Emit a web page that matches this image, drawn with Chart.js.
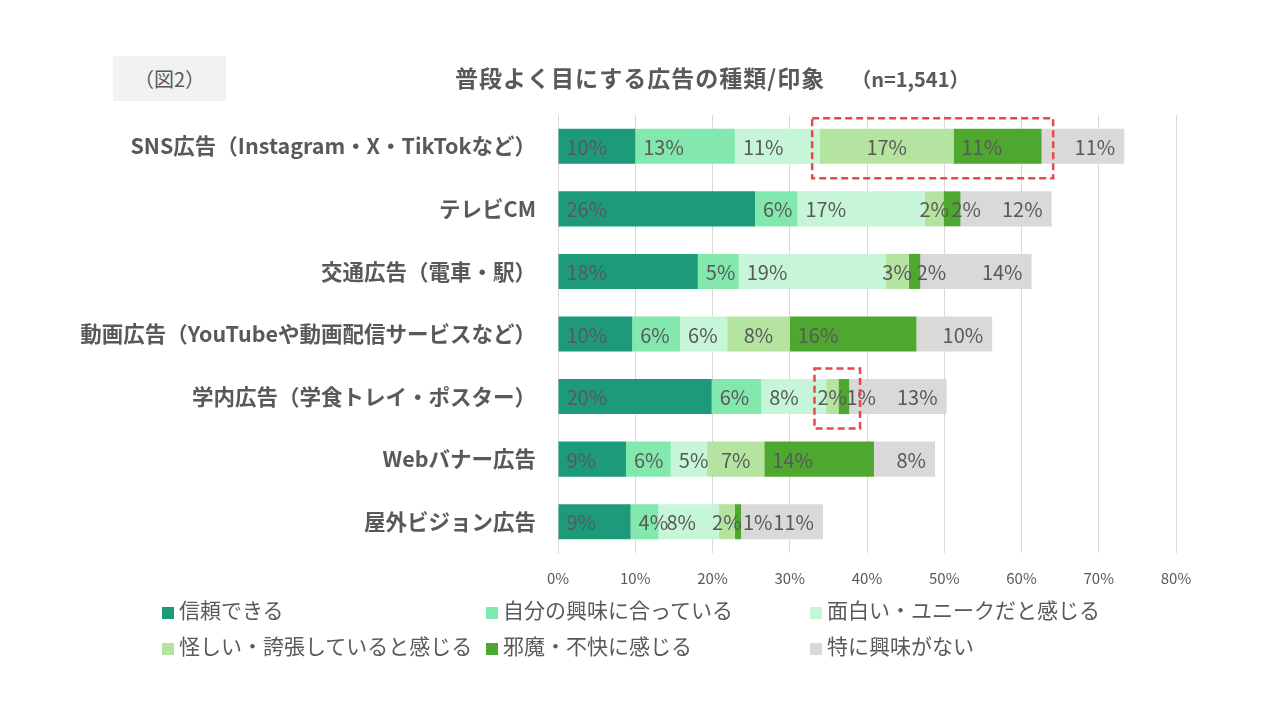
<!DOCTYPE html>
<html lang="ja">
<head>
<meta charset="utf-8">
<script src="https://cdn.jsdelivr.net/npm/chart.js@4/dist/chart.umd.min.js"></script>
<style>
  html, body { margin: 0; padding: 0; background: #fff; }
  body { width: 1280px; height: 720px; position: relative; overflow: hidden;
         font-family: "Noto Sans CJK JP", "Noto Sans", sans-serif; color: #595959; }
  #fig { position: absolute; left: 113px; top: 56px; width: 113px; height: 45px;
         background: #f2f2f2; font-size: 20px; line-height: 45px; text-align: center; }
  #title { position: absolute; left: 455px; top: 60px; font-size: 23px; font-weight: bold;
           letter-spacing: 1px; white-space: nowrap; }
  #title span { margin-left: 26px; font-size: 20px; letter-spacing: 0; }
  #legend { position: absolute; left: 0; top: 0; }
  .item { position: absolute; font-size: 21px; white-space: nowrap; line-height: 24px; }
  .item i { display: inline-block; width: 12px; height: 12px; margin-right: 5px; vertical-align: -1px; }
</style>
</head>
<body>
<canvas id="myChart" width="1280" height="720"></canvas>
<div id="fig">（図2）</div>
<div id="title">普段よく目にする広告の種類/印象<span>（n=1,541）</span></div>
<div id="legend"></div>
<script>
const categories = [
    'SNS広告（Instagram・X・TikTokなど）',
    'テレビCM',
    '交通広告（電車・駅）',
    '動画広告（YouTubeや動画配信サービスなど）',
    '学内広告（学食トレイ・ポスター）',
    'Webバナー広告',
    '屋外ビジョン広告',
];
const seriesNames = [
    '信頼できる',
    '自分の興味に合っている',
    '面白い・ユニークだと感じる',
    '怪しい・誇張していると感じる',
    '邪魔・不快に感じる',
    '特に興味がない',
];
const trust     = [10.0, 25.5, 18.1,  9.6, 19.9,  8.8, 9.4];
const interest  = [12.9,  5.5,  5.3,  6.2,  6.4,  5.8, 3.6];
const funny     = [11.0, 16.5, 19.0,  6.1,  8.4,  4.7, 7.8];
const suspect   = [17.3,  2.4,  3.0,  8.1,  1.6,  7.4, 2.1];
const annoying  = [11.4,  2.2,  1.5, 16.4,  1.4, 14.2, 0.8];
const noInterest= [10.7, 11.8, 14.4,  9.8, 12.6,  7.9, 10.6];
const xTicks = [0, 10, 20, 30, 40, 50, 60, 70, 80];
// red dashed highlight boxes: category index, from %, to %
const highlights = [
    { cat: 0, from: 32.9, to: 64.1 },
    { cat: 4, from: 33.2, to: 39.1 },
];

const colors = ['#1d9a7a', '#82e8ae', '#c6f5d8', '#b4e4a0', '#4ea72e', '#d9d9d9'];
const allData = [trust, interest, funny, suspect, annoying, noInterest];

// legend (html)
const legendPos = [[162, 609], [486, 609], [810, 609], [162, 645], [486, 645], [810, 645]];
const legendEl = document.getElementById('legend');
for (let i = 0; i < seriesNames.length; i++) {
    const d = document.createElement('div');
    d.className = 'item';
    d.style.left = legendPos[i][0] + 'px';
    d.style.top = (legendPos[i][1] - 12) + 'px';
    d.innerHTML = `<i style="background:${colors[i]}"></i>${seriesNames[i]}`;
    legendEl.appendChild(d);
}

const labelPlugin = {
    id: 'segLabels',
    afterDatasetsDraw(chart) {
        const ctx = chart.ctx;
        ctx.save();
        ctx.font = '20px "Noto Sans CJK JP", sans-serif';
        ctx.fillStyle = '#595959';
        ctx.textBaseline = 'middle';
        chart.data.datasets.forEach((ds, i) => {
            chart.getDatasetMeta(i).data.forEach((bar, j) => {
                const txt = Math.round(ds.data[j]) + '%';
                const left = Math.min(bar.x, bar.base);
                const right = Math.max(bar.x, bar.base);
                let x;
                if (i === 3) {
                    ctx.textAlign = 'center';
                    x = (left + right) / 2;
                } else if (i === 5) {
                    ctx.textAlign = 'right';
                    x = right - 9;
                } else {
                    ctx.textAlign = 'left';
                    x = left + 8;
                }
                ctx.fillText(txt, x, bar.y + 1);
            });
        });
        ctx.restore();
    }
};

const boxPlugin = {
    id: 'boxes',
    afterDatasetsDraw(chart) {
        const ctx = chart.ctx;
        const xs = chart.scales.x, ys = chart.scales.y;
        ctx.save();
        ctx.strokeStyle = '#e8474b';
        ctx.lineWidth = 2.5;
        ctx.setLineDash([7, 4]);
        highlights.forEach(h => {
            const yc = ys.getPixelForValue(h.cat);
            const x1 = xs.getPixelForValue(h.from);
            const x2 = xs.getPixelForValue(h.to);
            ctx.strokeRect(x1, yc - 28, x2 - x1, 60);
        });
        ctx.restore();
    }
};

const ctx = document.getElementById('myChart').getContext('2d');
new Chart(ctx, {
    type: 'bar',
    data: {
        labels: categories,
        datasets: seriesNames.map((n, i) => ({
            label: n,
            data: allData[i],
            backgroundColor: colors[i],
            borderWidth: 0,
            categoryPercentage: 0.56,
            barPercentage: 1,
        })),
    },
    options: {
        indexAxis: 'y',
        responsive: false,
        animation: false,
        layout: { padding: { top: 115, right: 104, left: 0, bottom: 0 } },
        plugins: {
            legend: { display: false },
            tooltip: { enabled: false },
        },
        scales: {
            x: {
                stacked: true,
                min: 0,
                max: 80,
                afterBuildTicks: s => { s.ticks = xTicks.map(v => ({ value: v })); },
                afterFit: s => { s.height = 167; },
                grid: { color: '#d9d9d9', drawTicks: false },
                border: { display: false },
                ticks: {
                    padding: 16,
                    color: '#595959',
                    font: { family: '"Noto Sans CJK JP", sans-serif', size: 15 },
                    callback: v => v + '%',
                },
            },
            y: {
                stacked: true,
                afterFit: s => { s.width = 558; },
                grid: { display: false, drawTicks: false },
                border: { display: true, color: '#d9d9d9' },
                ticks: {
                    padding: 22,
                    color: '#595959',
                    font: { family: '"Noto Sans CJK JP", sans-serif', size: 21.5, weight: 'bold' },
                },
            },
        },
    },
    plugins: [labelPlugin, boxPlugin],
});
</script>
</body>
</html>
